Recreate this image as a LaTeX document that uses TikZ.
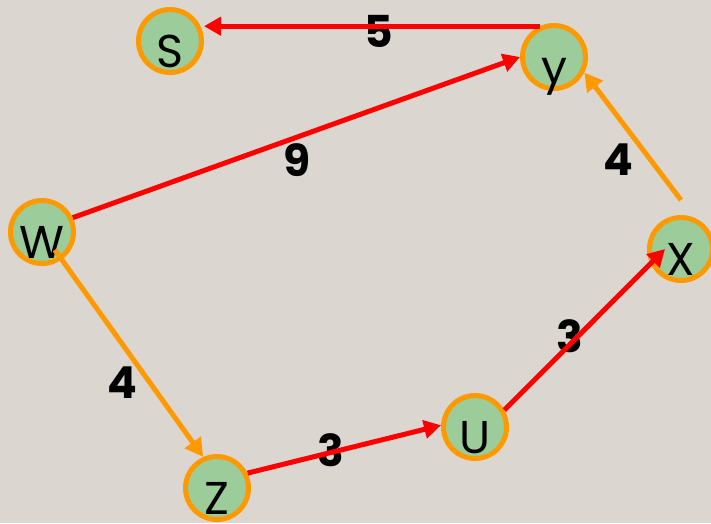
\documentclass[tikz,border=0pt]{standalone}
\usepackage{fontspec}
\usetikzlibrary{arrows.meta}
\newfontfamily\graphfont{Poppins}
\definecolor{slidebg}{HTML}{DCD6D0}
\definecolor{vertexfill}{HTML}{9BCC99}
\definecolor{vertexrim}{HTML}{FF9900}
\definecolor{edgered}{HTML}{FF0000}
\newcommand{\vname}[1]{\makebox[0pt]{\raisebox{-26pt}[0pt][0pt]{#1}}}
\begin{document}
\begin{tikzpicture}[
  x=1pt, y=-1pt,
  vertex/.style={
    circle, draw=vertexrim, fill=vertexfill,
    line width=5pt, minimum size=63pt, inner sep=0pt,
    font=\graphfont\fontsize{46}{46}\selectfont
  },
  redarrow/.style={-{Triangle[length=17pt,width=18pt]}, line width=5pt, draw=edgered},
  orangearrow/.style={-{Triangle[length=18pt,width=19pt]}, line width=5pt, draw=vertexrim},
  weight/.style={font=\graphfont\bfseries\fontsize{44}{44}\selectfont},
]

%% Background
\fill[slidebg] (0,0) rectangle (711,523);
\useasboundingbox (0,0) rectangle (711,523);

%% Vertices
\node[vertex] (S) at (170, 41) {\vname{S}};
\node[vertex] (Y) at (554, 57) {\vname{y}};
\node[vertex] (W) at (42, 232) {\vname{W}};
\node[vertex] (X) at (681, 249) {\vname{X}};
\node[vertex] (U) at (475, 427) {\vname{U}};
\node[vertex] (Z) at (217, 488) {\vname{Z}};

%% Weights
\node[weight] (w5) at (379, 31) {5};
\node[weight] (w9) at (297, 160) {9};
\node[weight] (w4a) at (618, 160) {4};
\node[weight] (w4b) at (122, 383) {4};
\node[weight] (w3a) at (331, 450) {3};
\node[weight] (w3b) at (570, 336) {3};

%% Edges
\coordinate (xtop) at ([yshift=15pt]X.north);
\coordinate (xhit) at ([xshift=-16pt]X.center);
\draw[redarrow] (Y.115) -- (Y.115 -| S.east);
\draw[redarrow] (W.25) -- (Y.180);
\draw[orangearrow] (xtop) -- (Y.333);
\draw[orangearrow, shorten <=22pt] (W.center) -- (Z.114);
\draw[redarrow] (Z.26) -- (U.177);
\draw[redarrow] (U.30) -- (xhit);

\end{tikzpicture}
\end{document}
